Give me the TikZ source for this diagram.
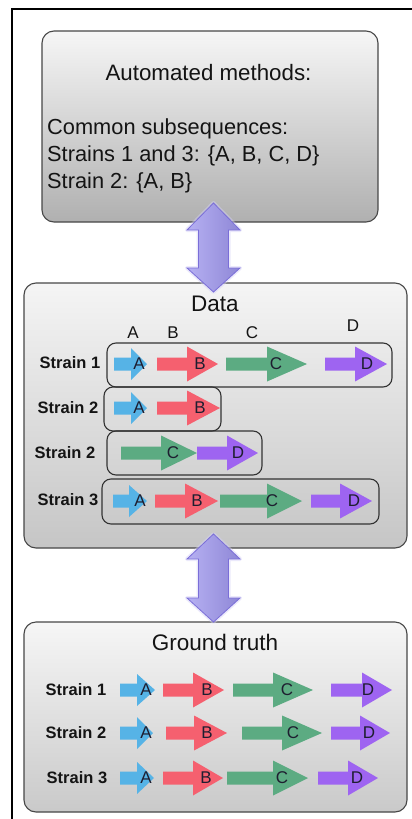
\documentclass[tikz,border=0pt]{standalone}
\usepackage{fontspec}
\setmainfont{Liberation Sans}
\usetikzlibrary{calc}

\definecolor{geneA}{HTML}{56B3E6}
\definecolor{geneB}{HTML}{F5606F}
\definecolor{geneC}{HTML}{5CAB82}
\definecolor{geneD}{HTML}{9E64F1}
\definecolor{linkfill}{HTML}{9E96EE}
\definecolor{linkedge}{HTML}{7A6ED8}
\definecolor{inktext}{HTML}{1E1E30}

% one gene arrow: colour, shaft start, head base, tip, y, half head height, label x, label
\newcommand{\gene}[8]{%
  \fill[#1] (#2,#5-6.5) -- (#3,#5-6.5) -- (#3,#5-#6) -- (#4,#5)
        -- (#3,#5+#6) -- (#3,#5+6.5) -- (#2,#5+6.5) -- cycle;
  \node[genelabel] at (#7,#5) {#8};}

% vertical double arrow linking two panels: centre x, top tip, upper head base, lower head base, bottom tip
\newcommand{\panellink}[5]{%
  \draw[line width=4pt, linkfill!45, opacity=0.45, line join=round]
    (#1,#2) -- (#1+26.5,#3) -- (#1+15,#3) -- (#1+15,#4) -- (#1+26.5,#4) -- (#1,#5)
    -- (#1-26.5,#4) -- (#1-15,#4) -- (#1-15,#3) -- (#1-26.5,#3) -- cycle;
  \shade[left color=linkfill!75!white, right color=linkfill!90!black, draw=linkedge, line width=0.8pt]
    (#1,#2) -- (#1+26.5,#3) -- (#1+15,#3) -- (#1+15,#4) -- (#1+26.5,#4) -- (#1,#5)
    -- (#1-26.5,#4) -- (#1-15,#4) -- (#1-15,#3) -- (#1-26.5,#3) -- cycle;}

\begin{document}
\begin{tikzpicture}[x=1pt, y=-1pt,
  panel/.style={draw=black!72, line width=1.1pt, rounded corners=12pt, inner sep=0pt},
  rowbox/.style={draw=black!80, line width=1.1pt, rounded corners=9pt, inner sep=0pt},
  title/.style={font=\fontsize{22.5}{26}\selectfont, text=black!92},
  strainlabel/.style={font=\fontsize{16.5}{20}\selectfont\bfseries, text=black!92},
  genelabel/.style={font=\fontsize{17}{20}\selectfont, text=inktext, inner sep=0pt},
  colhead/.style={font=\fontsize{17}{20}\selectfont, text=black!92, inner sep=0pt}]

\useasboundingbox (0,0) rectangle (412,819);
\fill[white] (0,0) rectangle (412,819);
\draw[line width=2pt] (12,9) rectangle (430,840);

% panels
\node[panel, top color=gray!7, bottom color=gray!62, minimum width=336pt, minimum height=191pt]
  (auto) at (210,126.5) {};
\node[panel, top color=gray!8, bottom color=gray!45, minimum width=383pt, minimum height=265pt]
  (data) at (215.5,415.5) {};
\node[panel, top color=gray!7, bottom color=gray!42, minimum width=383pt, minimum height=190pt]
  (truth) at (215.5,717) {};

% automated methods panel text
\node[font=\fontsize{22.3}{26}\selectfont, text=black!92] (autotitle) at (208.5,73) {Automated methods:};
\node[font=\fontsize{21.8}{27}\selectfont, align=left, anchor=west, inner sep=0pt, text=black!92]
  (autobody) at (47,155.5) {Common subsequences:\\Strains 1 and 3: \{A, B, C, D\}\\Strain 2: \{A, B\}};

% data panel
\node[title] (datatitle) at (215,304) {Data};
\node[colhead] (hA) at (133,333) {A};
\node[colhead] (hB) at (173,333) {B};
\node[colhead] (hC) at (252,333) {C};
\node[colhead] (hD) at (353,326) {D};

\node[rowbox, minimum width=285pt, minimum height=44pt] (row1) at (249.5,365) {};
\node[rowbox, minimum width=117pt, minimum height=44pt] (row2) at (162.5,409) {};
\node[rowbox, minimum width=155pt, minimum height=44pt] (row3) at (184.5,453) {};
\node[rowbox, minimum width=277pt, minimum height=45pt] (row4) at (240.5,501.5) {};

\node[strainlabel] (d1) at (70,363) {Strain 1};
\node[strainlabel] (d2) at (68,408) {Strain 2};
\node[strainlabel] (d3) at (65,453) {Strain 2};
\node[strainlabel] (d4) at (68,500) {Strain 3};

\gene{geneA}{114}{131}{147}{364}{16}{139}{A}
\gene{geneB}{157}{187}{218}{364}{17.5}{200}{B}
\gene{geneC}{226}{267}{307}{364}{17.5}{276}{C}
\gene{geneD}{325}{355}{387}{364}{17.5}{367}{D}

\gene{geneA}{114}{131}{147}{408}{16}{139}{A}
\gene{geneB}{157}{187}{220}{408}{17.5}{200}{B}

\gene{geneC}{121}{161}{197}{453}{17.5}{173}{C}
\gene{geneD}{197}{227}{258}{453}{17.5}{238}{D}

\gene{geneA}{113}{129}{147}{501}{16}{140}{A}
\gene{geneB}{155}{185}{218}{501}{17.5}{197}{B}
\gene{geneC}{220}{267}{302}{501}{17.5}{272}{C}
\gene{geneD}{311}{340}{372}{501}{17.5}{354}{D}

% ground truth panel
\node[title] (truthtitle) at (215,642) {Ground truth};
\node[strainlabel] (t1) at (76,690) {Strain 1};
\node[strainlabel] (t2) at (76,733) {Strain 2};
\node[strainlabel] (t3) at (77,778) {Strain 3};

\gene{geneA}{120}{137}{155}{690}{16}{146}{A}
\gene{geneB}{163}{193}{224}{690}{17.5}{207}{B}
\gene{geneC}{233}{273}{313}{690}{17.5}{287}{C}
\gene{geneD}{331}{362}{392}{690}{17.5}{368}{D}

\gene{geneA}{120}{137}{153}{733}{16}{146}{A}
\gene{geneB}{166}{194}{227}{733}{17.5}{207}{B}
\gene{geneC}{242}{282}{322}{733}{17.5}{293}{C}
\gene{geneD}{331}{360}{390}{733}{17.5}{369}{D}

\gene{geneA}{120}{137}{154}{778}{16}{146}{A}
\gene{geneB}{163}{193}{223}{778}{17.5}{206}{B}
\gene{geneC}{227}{273}{308}{778}{17.5}{282}{C}
\gene{geneD}{318}{348}{378}{778}{17.5}{357}{D}

% links between the panels
\panellink{213.5}{203}{230}{268}{292}
\panellink{213.5}{534}{559}{598}{622}
\end{tikzpicture}
\end{document}
